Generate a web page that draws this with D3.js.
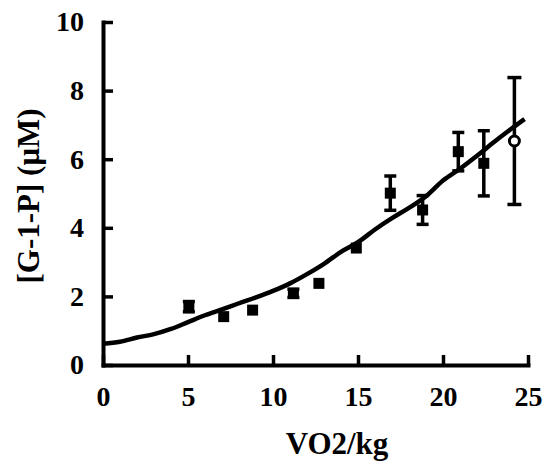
<!DOCTYPE html>
<html>
<head>
<meta charset="utf-8">
<script src="https://cdn.jsdelivr.net/npm/d3@7"></script>
<style>
    body { margin: 0; background: #fff; }
    text { font-family: "Liberation Serif", "Times New Roman", serif; fill: #000; }
</style>
</head>
<body>
<div id="chartDiv"></div>
<script>
// measured points with error bars
const pointX = [5.05, 7.1, 8.8, 11.2, 12.7, 14.9, 16.9, 18.8, 20.9, 22.4];
const pointY = [1.70, 1.41, 1.60, 2.09, 2.38, 3.41, 5.01, 4.52, 6.22, 5.88];
const pointErr = [0.15, 0, 0, 0.12, 0, 0, 0.50, 0.42, 0.56, 0.95];

// open circle point
const openX = [24.2];
const openY = [6.53];
const openErr = [1.85];

// fitted curve
const curveX = [0, 1, 2, 3, 4, 5, 6, 7, 8, 9, 10, 11, 12, 13, 14, 15, 16, 17, 18, 19, 20, 21, 22, 23, 24, 24.8];
const curveY = [0.62, 0.68, 0.80, 0.90, 1.05, 1.25, 1.45, 1.62, 1.80, 1.97, 2.16, 2.38, 2.65, 2.95, 3.30, 3.58, 3.95, 4.28, 4.58, 4.92, 5.38, 5.72, 6.10, 6.50, 6.88, 7.17];

const xTicks = [0, 5, 10, 15, 20, 25];
const yTicks = [0, 2, 4, 6, 8, 10];

const width = 543, height = 463;

const svg = d3.create('svg')
    .attr('width', width)
    .attr('height', height);

const x = d3.scaleLinear().domain([0, 25]).range([103, 528]);
const y = d3.scaleLinear().domain([0, 10]).range([365, 22]);

const xAxis = svg.append('g')
    .attr('transform', `translate(0,${y(0)})`)
    .call(d3.axisBottom(x).tickValues(xTicks).tickSizeInner(-10).tickSizeOuter(0).tickPadding(21));

const yAxis = svg.append('g')
    .attr('transform', `translate(${x(0)},0)`)
    .call(d3.axisLeft(y).tickValues(yTicks).tickSizeInner(-10).tickSizeOuter(0).tickPadding(19));

[xAxis, yAxis].forEach(ax => {
    ax.select('.domain').attr('stroke', '#000').attr('stroke-width', 4).attr('stroke-linecap', 'square');
    ax.selectAll('.tick line').attr('stroke', '#000').attr('stroke-width', 3.5);
    ax.selectAll('.tick text')
        .style('font-family', '"Liberation Serif", serif')
        .style('font-weight', 'bold')
        .style('font-size', '28px')
        .attr('fill', '#000');
});

const line = d3.line()
    .x((d, i) => x(curveX[i]))
    .y((d, i) => y(curveY[i]))
    .curve(d3.curveMonotoneX);

svg.append('path')
    .datum(curveX)
    .attr('fill', 'none')
    .attr('stroke', '#000')
    .attr('stroke-width', 4.5)
    .attr('stroke-linejoin', 'round')
    .attr('d', line);

const pts = d3.range(pointX.length);

// error bars
const errG = svg.append('g').attr('stroke', '#000').attr('stroke-width', 3.5);
pts.filter(i => pointErr[i] > 0).forEach(i => {
    const cx = x(pointX[i]);
    const top = y(pointY[i] + pointErr[i]);
    const bot = y(pointY[i] - pointErr[i]);
    errG.append('line').attr('x1', cx).attr('x2', cx).attr('y1', top).attr('y2', bot);
    errG.append('line').attr('x1', cx - 6).attr('x2', cx + 6).attr('y1', top).attr('y2', top);
    errG.append('line').attr('x1', cx - 6).attr('x2', cx + 6).attr('y1', bot).attr('y2', bot);
});
openX.forEach((v, i) => {
    const cx = x(v);
    const top = y(openY[i] + openErr[i]);
    const bot = y(openY[i] - openErr[i]);
    errG.append('line').attr('x1', cx).attr('x2', cx).attr('y1', top).attr('y2', bot);
    errG.append('line').attr('x1', cx - 7).attr('x2', cx + 7).attr('y1', top).attr('y2', top);
    errG.append('line').attr('x1', cx - 7).attr('x2', cx + 7).attr('y1', bot).attr('y2', bot);
});

// square markers
svg.selectAll('.pt')
    .data(pts)
    .enter().append('rect')
    .attr('x', i => x(pointX[i]) - 5.5)
    .attr('y', i => y(pointY[i]) - 5.5)
    .attr('width', 11)
    .attr('height', 11)
    .attr('fill', '#000');

// open circle
svg.selectAll('.open')
    .data(openX)
    .enter().append('circle')
    .attr('cx', d => x(d))
    .attr('cy', (d, i) => y(openY[i]))
    .attr('r', 5)
    .attr('fill', '#fff')
    .attr('stroke', '#000')
    .attr('stroke-width', 3);

svg.append('text')
    .attr('x', 337)
    .attr('y', 454)
    .attr('text-anchor', 'middle')
    .style('font-weight', 'bold')
    .style('font-size', '31px')
    .text('VO2/kg');

svg.append('text')
    .attr('transform', 'translate(39,196) rotate(-90)')
    .attr('text-anchor', 'middle')
    .style('font-weight', 'bold')
    .style('font-size', '31px')
    .text('[G-1-P] (μM)');

d3.select('#chartDiv').append(() => svg.node());
</script>
</body>
</html>
